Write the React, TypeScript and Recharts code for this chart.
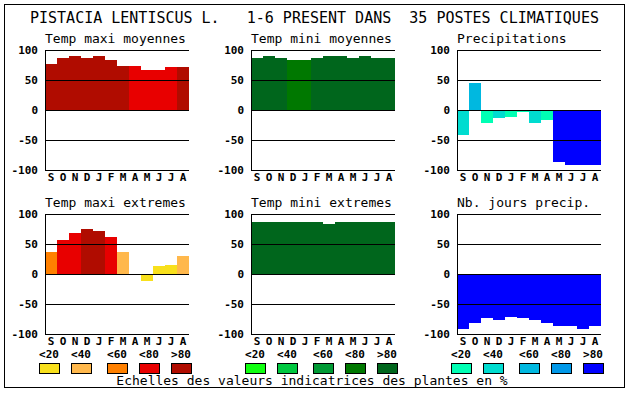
import { BarChart, Bar, XAxis, YAxis, Cell, ReferenceLine } from 'recharts'

const MONTHS = ['S', 'O', 'N', 'D', 'J', 'F', 'M', 'A', 'M', 'J', 'J', 'A']
const TICKS = [-100, -50, 0, 50, 100]
const LEVEL_LABELS = ['<20', '<40', '<60', '<80', '>80']

const WARM = ['#f8e01c', '#ffb84c', '#ff8000', '#e80000', '#b00c00']
const GREEN = ['#10ff10', '#00c840', '#009a34', '#007800', '#00661c']
const BLUE = ['#00ffb4', '#00dcd0', '#00b8e0', '#0098e8', '#0000ff']

const TITLE = 'PISTACIA LENTISCUS L.   1-6 PRESENT DANS  35 POSTES CLIMATIQUES'
const FOOTER = 'Echelles des valeurs indicatrices des plantes en %'

// valeurs (en %) et classe de couleur de chaque barre
const maxiMoy = [77, 86, 90, 87, 90, 84, 74, 74, 66, 67, 72, 72]
const maxiMoyLvl = [4, 4, 4, 4, 4, 4, 4, 3, 3, 3, 3, 4]
const miniMoy = [87, 90, 86, 84, 84, 86, 90, 90, 87, 90, 87, 87]
const miniMoyLvl = [4, 4, 4, 3, 3, 4, 4, 4, 4, 4, 4, 4]
const precip = [-42, 45, -22, -14, -11, -4, -22, -17, -86, -91, -92, -92]
const precipLvl = [1, 2, 0, 1, 0, 0, 1, 0, 4, 4, 4, 4]
const maxiExt = [36, 57, 68, 75, 72, 62, 36, -2, -12, 14, 15, 30]
const maxiExtLvl = [2, 3, 3, 4, 4, 3, 1, 0, 0, 0, 0, 1]
const miniExt = [87, 86, 86, 86, 86, 87, 84, 86, 87, 87, 87, 87]
const miniExtLvl = [4, 4, 4, 4, 4, 4, 4, 4, 4, 4, 4, 4]
const nbJours = [-91, -82, -74, -76, -72, -74, -77, -81, -87, -86, -91, -87]
const nbJoursLvl = [4, 4, 4, 4, 4, 4, 4, 4, 4, 4, 4, 4]

const MONO = '"DejaVu Sans Mono", monospace'
const PLOT_W = 144
const PLOT_H = 120
const AXIS_W = 45
const M_TOP = 10
const COLS = [45, 251, 457]
const ROWS = [50, 214]
const LEGEND_OFFS = [0, 32, 68, 100, 132]

const tickStyle = { fontFamily: MONO, fontWeight: 'bold', fontSize: 11, fill: '#000' }

function Panel({ values, levels, palette, left, top }: {
  values: number[]
  levels: number[]
  palette: string[]
  left: number
  top: number
}) {
  const data = values.map((v, i) => ({ i, v }))
  return (
    <div style={{ position: 'absolute', left: left - AXIS_W, top: top - M_TOP }}>
      <BarChart
        width={AXIS_W + PLOT_W + 2}
        height={M_TOP + PLOT_H + 20}
        data={data}
        margin={{ top: M_TOP, right: 2, bottom: 0, left: 0 }}
        barCategoryGap={0}
        barGap={0}
      >
        <XAxis
          dataKey='i'
          type='category'
          tickFormatter={(i) => MONTHS[i]}
          interval={0}
          axisLine={false}
          tickLine={false}
          tickSize={0}
          tickMargin={3}
          height={20}
          tick={tickStyle}
        />
        <YAxis
          domain={[-100, 100]}
          ticks={TICKS}
          interval={0}
          width={AXIS_W}
          tickLine={false}
          tickSize={5}
          tickMargin={2}
          axisLine={{ stroke: '#000' }}
          tick={tickStyle}
        />
        <YAxis
          yAxisId='r'
          orientation='right'
          domain={[-100, 100]}
          width={0}
          tick={false}
          tickLine={false}
          axisLine={{ stroke: '#000' }}
        />
        <Bar dataKey='v' isAnimationActive={false}>
          {data.map((d) => (
            <Cell key={d.i} fill={palette[levels[d.i]]} />
          ))}
        </Bar>
        {TICKS.map((t) => (
          <ReferenceLine key={t} y={t} stroke='#000' strokeWidth={1} />
        ))}
      </BarChart>
    </div>
  )
}

const panels = [
  { title: 'Temp maxi moyennes', values: maxiMoy, levels: maxiMoyLvl, palette: WARM, col: 0, row: 0 },
  { title: 'Temp mini moyennes', values: miniMoy, levels: miniMoyLvl, palette: GREEN, col: 1, row: 0 },
  { title: 'Precipitations', values: precip, levels: precipLvl, palette: BLUE, col: 2, row: 0 },
  { title: 'Temp maxi extremes', values: maxiExt, levels: maxiExtLvl, palette: WARM, col: 0, row: 1 },
  { title: 'Temp mini extremes', values: miniExt, levels: miniExtLvl, palette: GREEN, col: 1, row: 1 },
  { title: 'Nb. jours precip.', values: nbJours, levels: nbJoursLvl, palette: BLUE, col: 2, row: 1 },
]

const legendPalettes = [WARM, GREEN, BLUE]

export default function App() {
  return (
    <div
      style={{
        position: 'absolute',
        left: 0,
        top: 0,
        width: 630,
        height: 394,
        background: '#fff',
        shapeRendering: 'crispEdges',
      }}
    >
      <svg width={630} height={394} style={{ position: 'absolute', left: 0, top: 0 }}>
        <rect x={4.5} y={4.5} width={620} height={383} fill='none' stroke='#000' />
        <text x={30} y={23} fontFamily={MONO} fontSize={15} style={{ whiteSpace: 'pre' }}>
          {TITLE}
        </text>
        {panels.map((p) => (
          <text
            key={p.title}
            x={COLS[p.col]}
            y={ROWS[p.row] - 7}
            fontFamily={MONO}
            fontSize={13}
          >
            {p.title}
          </text>
        ))}
        {legendPalettes.map((pal, g) =>
          pal.map((c, k) => {
            const x = COLS[g] - 6 + LEGEND_OFFS[k]
            return (
              <g key={g + '-' + k}>
                <text
                  x={x + 10}
                  y={358}
                  textAnchor='middle'
                  fontFamily={MONO}
                  fontWeight='bold'
                  fontSize={11}
                >
                  {LEVEL_LABELS[k]}
                </text>
                <rect x={x + 0.5} y={363.5} width={20} height={10} fill={c} stroke='#000' />
              </g>
            )
          })
        )}
        <text x={312} y={385} textAnchor='middle' fontFamily={MONO} fontSize={13}>
          {FOOTER}
        </text>
      </svg>
      {panels.map((p) => (
        <Panel
          key={p.title}
          values={p.values}
          levels={p.levels}
          palette={p.palette}
          left={COLS[p.col]}
          top={ROWS[p.row]}
        />
      ))}
    </div>
  )
}
